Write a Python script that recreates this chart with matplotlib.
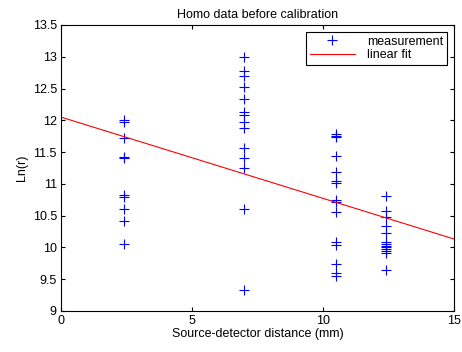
import matplotlib.pyplot as plt
import numpy as np

plt.rcParams["font.family"] = ["Liberation Sans", "DejaVu Sans"]
plt.rcParams["font.size"] = 9

# measured Ln(r) at each source-detector distance (mm)
d1 = [12.0, 11.97, 11.72, 11.42, 11.4, 10.83, 10.79, 10.6, 10.42, 10.05]
d2 = [13.0, 12.78, 12.7, 12.53, 12.33, 12.13, 12.08, 11.97, 11.88,
      11.57, 11.4, 11.25, 10.6, 9.33]
d3 = [11.78, 11.76, 11.74, 11.44, 11.19, 11.04, 11.01, 10.74, 10.71,
      10.56, 10.08, 10.04, 9.73, 9.59, 9.55]
d4 = [10.8, 10.57, 10.47, 10.34, 10.23, 10.08, 10.05, 10.02, 10.0,
      9.97, 9.94, 9.91, 9.65]
distances = [2.4, 7.0, 10.5, 12.4]
groups = [d1, d2, d3, d4]

fit_intercept = 12.05
fit_slope = -0.128

x = np.concatenate([[d] * len(g) for d, g in zip(distances, groups)])
y = np.concatenate(groups)

fig = plt.figure(figsize=(4.62, 3.52), dpi=100)
ax = fig.add_axes([0.132, 0.117, 0.851, 0.812])

ax.plot(x, y, "+", color="blue", markersize=7, markeredgewidth=0.8,
        label="measurement")
xf = np.array([0, 15])
ax.plot(xf, fit_intercept + fit_slope * xf, color="red", linewidth=0.8,
        label="linear fit")

ax.set_xlim(0, 15)
ax.set_ylim(9, 13.5)
ax.set_xticks([0, 5, 10, 15])
ax.set_yticks(np.arange(9, 13.6, 0.5))
ax.set_yticklabels(["9", "9.5", "10", "10.5", "11", "11.5", "12", "12.5", "13", "13.5"])
ax.tick_params(direction="in", length=3, width=0.8, top=True, right=True,
               labelsize=9, pad=3)
for s in ax.spines.values():
    s.set_linewidth(0.8)

ax.set_title("Homo data before calibration", fontsize=9, pad=5)
ax.set_xlabel("Source-detector distance (mm)", fontsize=9, labelpad=1)
ax.set_ylabel("Ln(r)", fontsize=9, labelpad=3)

leg = ax.legend(loc="upper right", fontsize=9, fancybox=False,
                edgecolor="black", framealpha=1, borderaxespad=0.55,
                handlelength=3.6, handletextpad=1.0, borderpad=0.3,
                labelspacing=0.15)
leg.get_frame().set_linewidth(0.8)

fig.savefig("out.png", dpi=100)
